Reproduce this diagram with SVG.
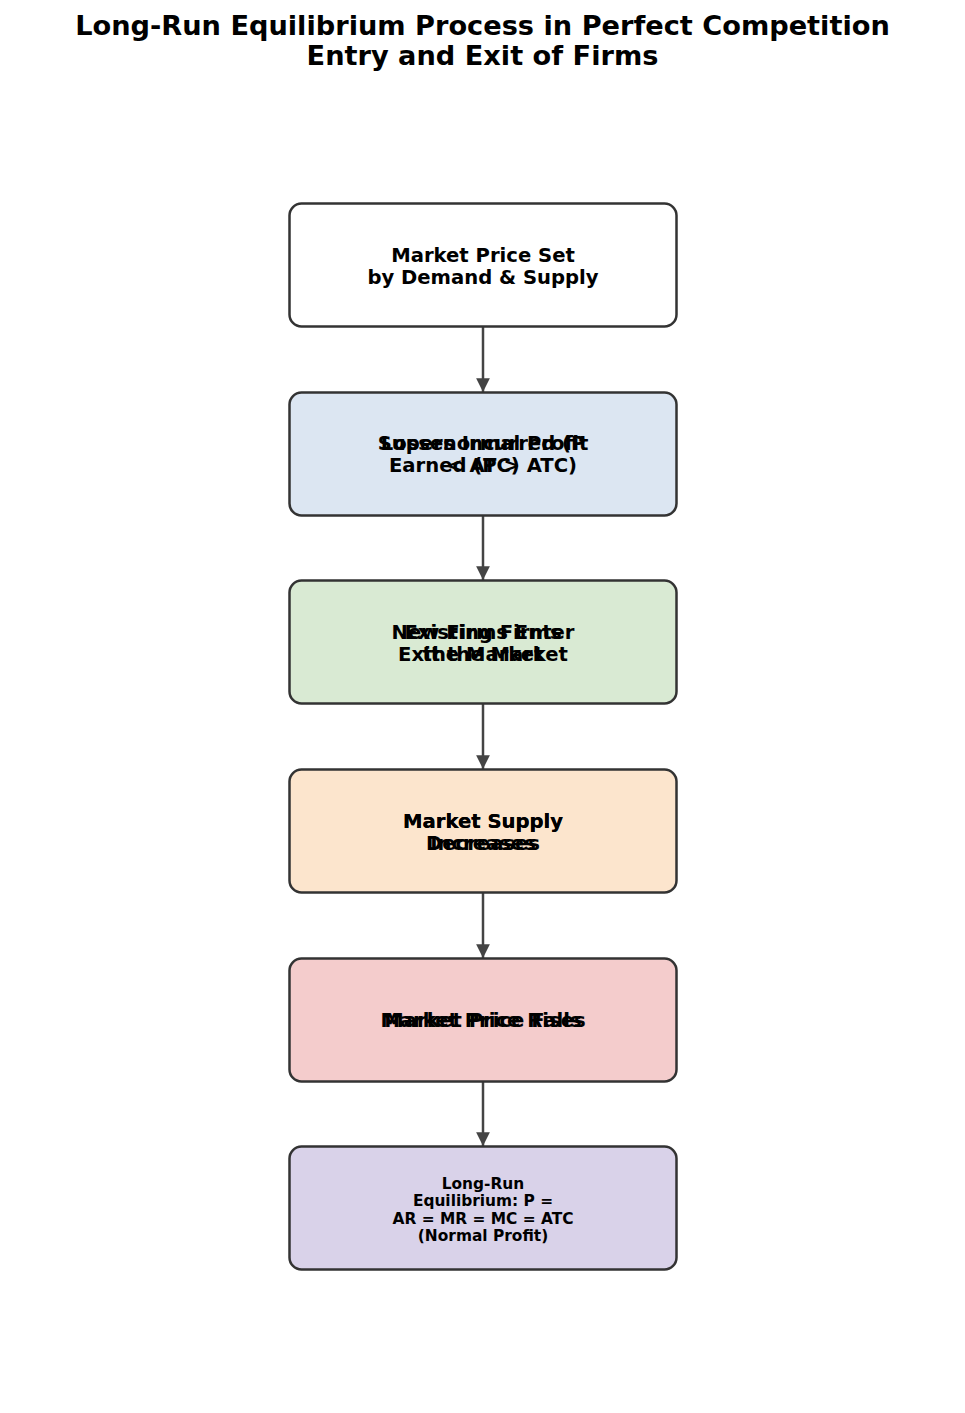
<svg xmlns="http://www.w3.org/2000/svg" width="965" height="1413" viewBox="0 0 965 1413">
<style>
.box{stroke:#333333;stroke-width:2.5}
.t{font-family:"DejaVu Sans",sans-serif;font-weight:bold;font-size:19.6px;text-anchor:middle;fill:#000}
.s{font-size:15.4px}
.title{font-family:"DejaVu Sans",sans-serif;font-weight:bold;font-size:27.2px;text-anchor:middle;fill:#000}
.c{stroke:#444444;stroke-width:2.5;fill:none}
</style>
<defs>
<marker id="ah" viewBox="0 0 10 10" refX="10" refY="5" markerWidth="5.5" markerHeight="5.5" orient="auto" markerUnits="strokeWidth">
<path d="M0,0 L10,5 L0,10 z" fill="#444444"/>
</marker>
</defs>
<rect width="965" height="1413" fill="#fff"/>
<text class="title" x="482.5" y="35">Long-Run Equilibrium Process in Perfect Competition</text>
<text class="title" x="482.5" y="65">Entry and Exit of Firms</text>
<g id="connectors">
<line class="c" x1="483" y1="327" x2="483" y2="392" marker-end="url(#ah)"/>
<line class="c" x1="483" y1="516" x2="483" y2="580" marker-end="url(#ah)"/>
<line class="c" x1="483" y1="704" x2="483" y2="769" marker-end="url(#ah)"/>
<line class="c" x1="483" y1="893" x2="483" y2="958" marker-end="url(#ah)"/>
<line class="c" x1="483" y1="1082" x2="483" y2="1146" marker-end="url(#ah)"/>
</g>
<g id="n1">
<rect class="box" x="289.5" y="203.5" width="387" height="123" rx="12" fill="#ffffff"/>
<text class="t" x="483" y="262">Market Price Set</text>
<text class="t" x="483" y="284">by Demand &amp; Supply</text>
</g>
<g id="n2">
<rect class="box" x="289.5" y="392.5" width="387" height="123" rx="12" fill="#dce6f2"/>
<text class="t" x="483" y="450">Supernormal Profit</text>
<text class="t" x="483" y="472">Earned (P &gt; ATC)</text>
<text class="t" x="483" y="450">Losses Incurred (P</text>
<text class="t" x="483" y="472">&lt; ATC)</text>
</g>
<g id="n3">
<rect class="box" x="289.5" y="580.5" width="387" height="123" rx="12" fill="#d9ead3"/>
<text class="t" x="483" y="639">New Firms Enter</text>
<text class="t" x="483" y="661">the Market</text>
<text class="t" x="483" y="639">Existing Firms</text>
<text class="t" x="483" y="661">Exit the Market</text>
</g>
<g id="n4">
<rect class="box" x="289.5" y="769.5" width="387" height="123" rx="12" fill="#fce5cd"/>
<text class="t" x="483" y="828">Market Supply</text>
<text class="t" x="483" y="850">Increases</text>
<text class="t" x="483" y="828">Market Supply</text>
<text class="t" x="483" y="850">Decreases</text>
</g>
<g id="n5">
<rect class="box" x="289.5" y="958.5" width="387" height="123" rx="12" fill="#f4cccc"/>
<text class="t" x="483" y="1027">Market Price Falls</text>
<text class="t" x="483" y="1027">Market Price Rises</text>
</g>
<g id="n6">
<rect class="box" x="289.5" y="1146.5" width="387" height="123" rx="12" fill="#d9d2e9"/>
<text class="t s" x="483" y="1188.5">Long-Run</text>
<text class="t s" x="483" y="1206">Equilibrium: P =</text>
<text class="t s" x="483" y="1223.5">AR = MR = MC = ATC</text>
<text class="t s" x="483" y="1241">(Normal Profit)</text>
</g>
</svg>
